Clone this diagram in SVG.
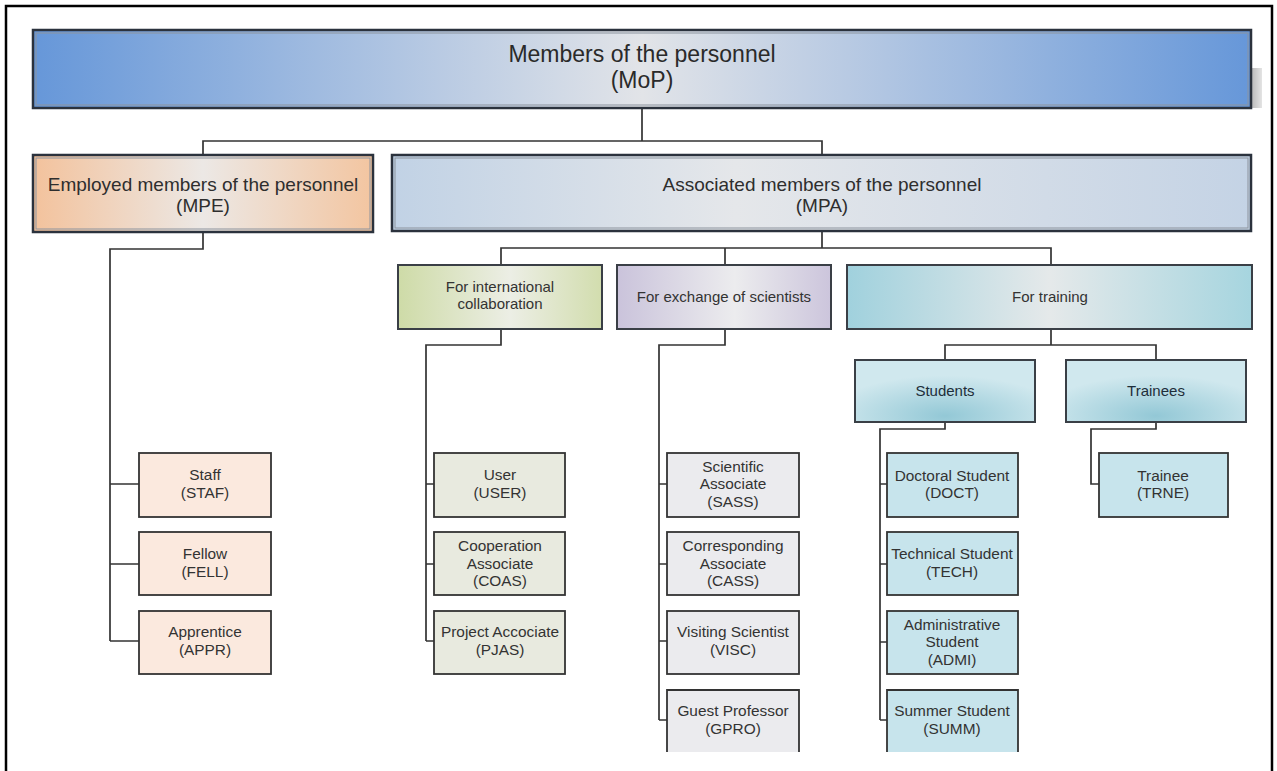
<svg xmlns="http://www.w3.org/2000/svg" width="1277" height="771" viewBox="0 0 1277 771">
  <defs>
    <linearGradient id="gMoP" x1="0" y1="0" x2="1" y2="0">
      <stop offset="0" stop-color="#6697d9"/>
      <stop offset="0.5" stop-color="#e2e4e8"/>
      <stop offset="1" stop-color="#6697d9"/>
    </linearGradient>
    <linearGradient id="gMPE" x1="0" y1="0" x2="1" y2="0">
      <stop offset="0" stop-color="#f3c29c"/>
      <stop offset="0.5" stop-color="#ece8e5"/>
      <stop offset="1" stop-color="#f3c5a0"/>
    </linearGradient>
    <linearGradient id="gMPA" x1="0" y1="0" x2="1" y2="0">
      <stop offset="0" stop-color="#c1d2e5"/>
      <stop offset="0.4" stop-color="#e5e7ea"/>
      <stop offset="1" stop-color="#c4d3e5"/>
    </linearGradient>
    <linearGradient id="gIntl" x1="0" y1="0" x2="1" y2="0">
      <stop offset="0" stop-color="#cedba7"/>
      <stop offset="0.55" stop-color="#eceee5"/>
      <stop offset="1" stop-color="#d2ddae"/>
    </linearGradient>
    <linearGradient id="gExch" x1="0" y1="0" x2="1" y2="0">
      <stop offset="0" stop-color="#cac3db"/>
      <stop offset="0.55" stop-color="#ececee"/>
      <stop offset="1" stop-color="#ccc5dc"/>
    </linearGradient>
    <linearGradient id="gTrain" x1="0" y1="0" x2="1" y2="0">
      <stop offset="0" stop-color="#a0d1dd"/>
      <stop offset="0.5" stop-color="#e5e9ea"/>
      <stop offset="1" stop-color="#a6d5df"/>
    </linearGradient>
    <radialGradient id="gSub" cx="0.5" cy="0.9" r="0.65">
      <stop offset="0" stop-color="#93c8d6"/>
      <stop offset="1" stop-color="#d0e8ee"/>
    </radialGradient>
    <linearGradient id="gShadow" x1="0" y1="0" x2="1" y2="0">
      <stop offset="0" stop-color="#b8b8b8"/>
      <stop offset="1" stop-color="#e4e4e4"/>
    </linearGradient>
  </defs>
  <style>
    text { font-family: "Liberation Sans", Arial, sans-serif; fill: #333; text-anchor: middle; }
    .t1 { font-size: 23px; fill: #2a2a2a; }
    .t2 { font-size: 19px; fill: #2e2e2e; }
    .t3 { font-size: 15px; }
    .lf { font-size: 15.4px; }
    .sub { font-size: 15px; fill: #1e2e3a; }
    .big { stroke: #2b323d; stroke-width: 2.5; }
    .inner { fill: none; stroke: #8c939d; stroke-width: 1; }
    .mid { stroke: #3a3f46; stroke-width: 2; }
    .leaf { stroke: #333; stroke-width: 1.8; }
    .open { fill: none; stroke: #333; stroke-width: 1.8; }
    .pe { fill: #fbe9de; }
    .pi { fill: #e8eadf; }
    .px { fill: #ebebee; }
    .pt { fill: #c7e4ec; }
    .conn { fill: none; stroke: #333; stroke-width: 1.7; }
  </style>

  <rect width="1277" height="771" fill="#ffffff"/>

  <!-- page frame -->
  <path d="M6,771 V6 H1272 V771" fill="none" stroke="#000" stroke-width="2.5"/>

  <!-- connectors -->
  <g id="connectors">
    <path class="conn" d="M642,108 V141 M203,155 V141 H822 V155"/>
    <path class="conn" d="M203,232 V249 H110 V641 M110,484 H139 M110,564 H139 M110,641 H139"/>
    <path class="conn" d="M822,231 V248 M501,265 V248 H1051 V265 M725,248 V265"/>
    <path class="conn" d="M501,329 V345 H426 V641 M426,484 H434 M426,564 H434 M426,641 H434"/>
    <path class="conn" d="M725,329 V345 H659 V720 M659,484 H667 M659,564 H667 M659,641 H667 M659,720 H667"/>
    <path class="conn" d="M1051,329 V345 M945,360 V345 H1156 V360"/>
    <path class="conn" d="M945,422 V429 H880 V720 M880,484 H887 M880,564 H887 M880,642 H887 M880,720 H887"/>
    <path class="conn" d="M1156,422 V429 H1091 V484 H1099"/>
  </g>

  <!-- top level -->
  <g id="mop">
    <rect x="1251" y="68" width="11" height="40" fill="url(#gShadow)"/>
    <rect class="big" x="33" y="30" width="1218" height="78" fill="url(#gMoP)"/>
    <rect class="inner" x="36" y="33" width="1212" height="72"/>
    <text class="t1" x="642" y="62">Members of the personnel</text>
    <text class="t1" x="642" y="88">(MoP)</text>
  </g>

  <!-- second level -->
  <g id="mpe">
    <rect class="big" x="33" y="155" width="340" height="77" fill="url(#gMPE)"/>
    <rect class="inner" x="36" y="158" width="334" height="71"/>
    <text class="t2" x="203" y="191">Employed members of the personnel</text>
    <text class="t2" x="203" y="212">(MPE)</text>
  </g>
  <g id="mpa">
    <rect class="big" x="392" y="155" width="859" height="76" fill="url(#gMPA)"/>
    <rect class="inner" x="395" y="158" width="853" height="70"/>
    <text class="t2" x="822" y="191">Associated members of the personnel</text>
    <text class="t2" x="822" y="212">(MPA)</text>
  </g>

  <!-- third level -->
  <g id="intl">
    <rect class="mid" x="398" y="265" width="204" height="64" fill="url(#gIntl)"/>
    <text class="t3" x="500" y="292">For international</text>
    <text class="t3" x="500" y="309">collaboration</text>
  </g>
  <g id="exch">
    <rect class="mid" x="617" y="265" width="214" height="64" fill="url(#gExch)"/>
    <text class="t3" x="724" y="302">For exchange of scientists</text>
  </g>
  <g id="train">
    <rect class="mid" x="847" y="265" width="405" height="64" fill="url(#gTrain)"/>
    <text class="t3" x="1050" y="302">For training</text>
  </g>

  <!-- training sub-groups -->
  <g id="students">
    <rect class="mid" x="855" y="360" width="180" height="62" fill="url(#gSub)"/>
    <text class="sub" x="945" y="396">Students</text>
  </g>
  <g id="trainees">
    <rect class="mid" x="1066" y="360" width="180" height="62" fill="url(#gSub)"/>
    <text class="sub" x="1156" y="396">Trainees</text>
  </g>

  <!-- employed leaves -->
  <g id="staf">
    <rect class="leaf pe" x="139" y="453" width="132" height="64"/>
    <text class="lf" x="205" y="480">Staff</text>
    <text class="lf" x="205" y="498">(STAF)</text>
  </g>
  <g id="fell">
    <rect class="leaf pe" x="139" y="532" width="132" height="63"/>
    <text class="lf" x="205" y="559">Fellow</text>
    <text class="lf" x="205" y="577">(FELL)</text>
  </g>
  <g id="appr">
    <rect class="leaf pe" x="139" y="611" width="132" height="63"/>
    <text class="lf" x="205" y="637">Apprentice</text>
    <text class="lf" x="205" y="655">(APPR)</text>
  </g>

  <!-- international collaboration leaves -->
  <g id="user">
    <rect class="leaf pi" x="434" y="453" width="131" height="64"/>
    <text class="lf" x="500" y="480">User</text>
    <text class="lf" x="500" y="498">(USER)</text>
  </g>
  <g id="coas">
    <rect class="leaf pi" x="434" y="532" width="131" height="63"/>
    <text class="lf" x="500" y="551">Cooperation</text>
    <text class="lf" x="500" y="569">Associate</text>
    <text class="lf" x="500" y="586">(COAS)</text>
  </g>
  <g id="pjas">
    <rect class="leaf pi" x="434" y="611" width="131" height="63"/>
    <text class="lf" x="500" y="637">Project Accociate</text>
    <text class="lf" x="500" y="655">(PJAS)</text>
  </g>

  <!-- exchange of scientists leaves -->
  <g id="sass">
    <rect class="leaf px" x="667" y="453" width="132" height="64"/>
    <text class="lf" x="733" y="472">Scientific</text>
    <text class="lf" x="733" y="489">Associate</text>
    <text class="lf" x="733" y="507">(SASS)</text>
  </g>
  <g id="cass">
    <rect class="leaf px" x="667" y="532" width="132" height="63"/>
    <text class="lf" x="733" y="551">Corresponding</text>
    <text class="lf" x="733" y="569">Associate</text>
    <text class="lf" x="733" y="586">(CASS)</text>
  </g>
  <g id="visc">
    <rect class="leaf px" x="667" y="611" width="132" height="63"/>
    <text class="lf" x="733" y="637">Visiting Scientist</text>
    <text class="lf" x="733" y="655">(VISC)</text>
  </g>
  <g id="gpro">
    <rect class="px" x="667" y="690" width="132" height="62"/>
    <path class="open" d="M667,752 V690 H799 V752"/>
    <text class="lf" x="733" y="716">Guest Professor</text>
    <text class="lf" x="733" y="734">(GPRO)</text>
  </g>

  <!-- student leaves -->
  <g id="doct">
    <rect class="leaf pt" x="887" y="453" width="131" height="64"/>
    <text class="lf" x="952" y="481">Doctoral Student</text>
    <text class="lf" x="952" y="498">(DOCT)</text>
  </g>
  <g id="tech">
    <rect class="leaf pt" x="887" y="532" width="131" height="63"/>
    <text class="lf" x="952" y="559">Technical Student</text>
    <text class="lf" x="952" y="577">(TECH)</text>
  </g>
  <g id="admi">
    <rect class="leaf pt" x="887" y="611" width="131" height="63"/>
    <text class="lf" x="952" y="630">Administrative</text>
    <text class="lf" x="952" y="647">Student</text>
    <text class="lf" x="952" y="665">(ADMI)</text>
  </g>
  <g id="summ">
    <rect class="pt" x="887" y="690" width="131" height="62"/>
    <path class="open" d="M887,752 V690 H1018 V752"/>
    <text class="lf" x="952" y="716">Summer Student</text>
    <text class="lf" x="952" y="734">(SUMM)</text>
  </g>

  <!-- trainee leaf -->
  <g id="trne">
    <rect class="leaf pt" x="1099" y="453" width="129" height="64"/>
    <text class="lf" x="1163" y="481">Trainee</text>
    <text class="lf" x="1163" y="498">(TRNE)</text>
  </g>
</svg>
